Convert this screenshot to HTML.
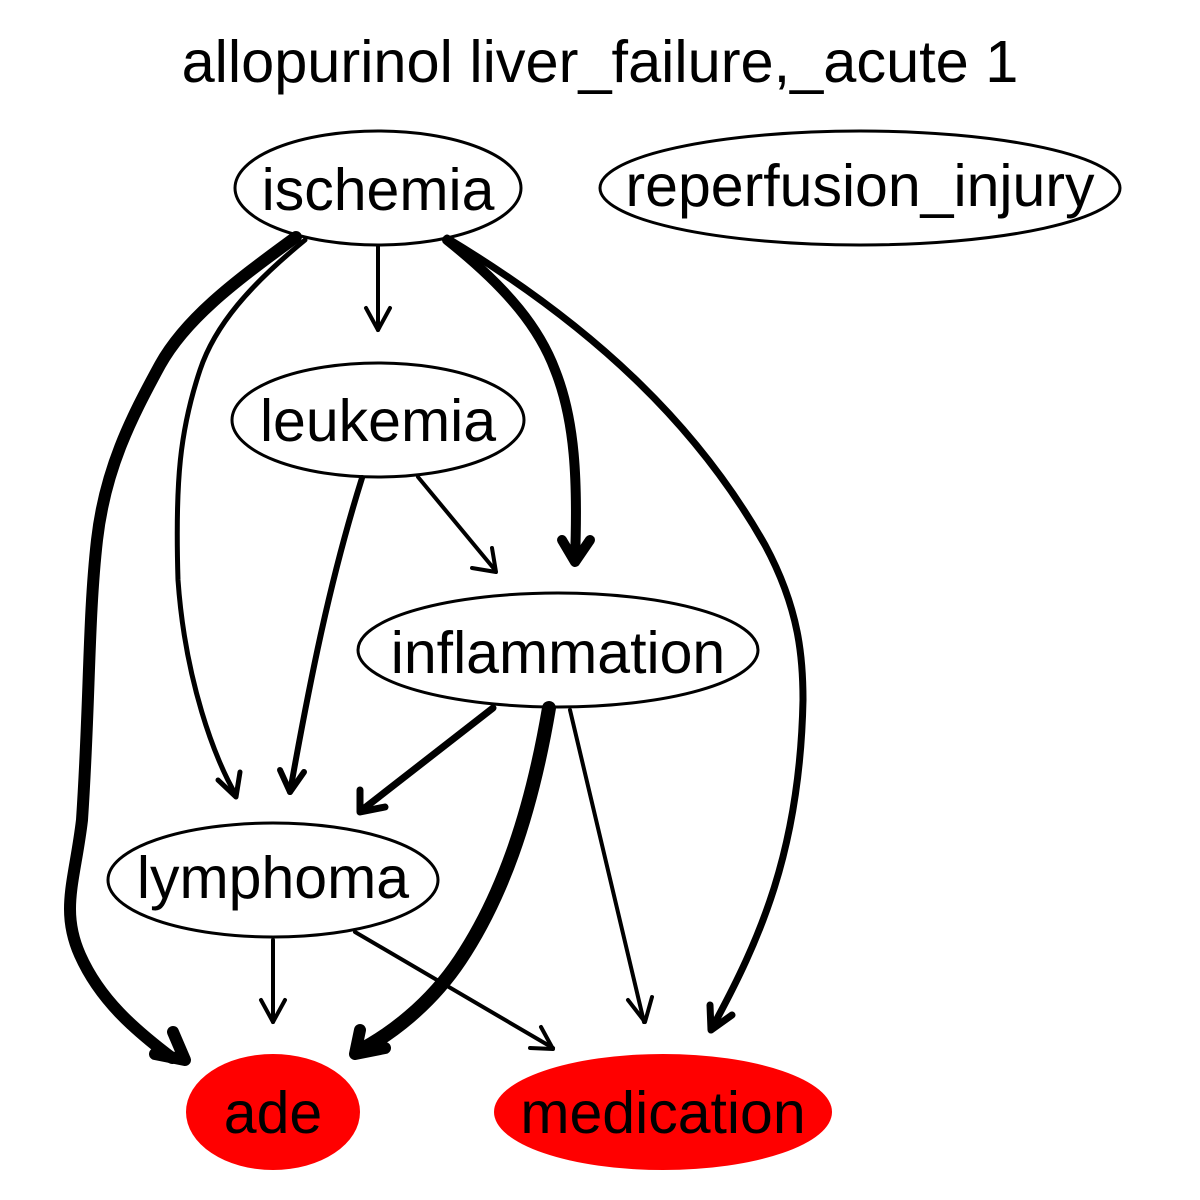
<!DOCTYPE html>
<html><head><meta charset="utf-8"><style>html,body{margin:0;padding:0;background:#fff}svg{display:block}</style></head>
<body>
<svg width="1200" height="1200" viewBox="0 0 1200 1200" xmlns="http://www.w3.org/2000/svg" font-family="Liberation Sans, sans-serif">
<rect width="1200" height="1200" fill="#fff"/>
<text x="600" y="82" font-size="59.5" text-anchor="middle">allopurinol liver_failure,_acute 1</text>
<g fill="none" stroke="#000" stroke-linecap="round" stroke-linejoin="round">
<path d="M296,237 C230,285 185,320 160,365 C130,420 105,470 97,540 C88,620 90,700 82,820 C75,880 60,910 80,955 C100,1000 135,1030 172,1058" stroke-width="12"/>
<polyline points="155,1054 185,1060 173,1032" stroke-width="12"/>
<path d="M305,240 C250,285 215,325 200,370 C180,430 175,480 178,580 C185,680 215,760 236,795" stroke-width="5"/>
<polyline points="218,780 236,797 240,772" stroke-width="5"/>
<line x1="378" y1="246" x2="378" y2="330" stroke-width="4"/>
<polyline points="366,308 378,330 390,308" stroke-width="4"/>
<path d="M447,240 C510,290 540,330 555,370 C575,420 578,480 575,560" stroke-width="10"/>
<polyline points="562,540 575,562 590,540" stroke-width="10"/>
<path d="M447,238 C600,330 700,430 765,545 C800,610 803,660 803,700 C800,850 760,940 712,1028" stroke-width="7"/>
<polyline points="710,1005 711,1030 732,1015" stroke-width="7"/>
<path d="M362,478 C330,580 310,680 290,792" stroke-width="6"/>
<polyline points="280,770 290,792 304,772" stroke-width="6"/>
<line x1="418" y1="477" x2="495" y2="570" stroke-width="4"/>
<polyline points="472,568 496,572 492,548" stroke-width="4"/>
<line x1="493" y1="708" x2="362" y2="810" stroke-width="7"/>
<polyline points="360,790 360,812 385,807" stroke-width="7"/>
<path d="M549,708 C530,820 500,900 460,960 C430,1005 390,1035 357,1052" stroke-width="14"/>
<polyline points="360,1030 355,1054 385,1048" stroke-width="12"/>
<line x1="570" y1="710" x2="644" y2="1022" stroke-width="4"/>
<polyline points="628,1000 645,1022 652,997" stroke-width="4"/>
<line x1="273" y1="940" x2="273" y2="1022" stroke-width="4"/>
<polyline points="261,1000 273,1022 285,1000" stroke-width="4"/>
<line x1="355" y1="932" x2="553" y2="1048" stroke-width="4"/>
<polyline points="530,1048 553,1049 541,1027" stroke-width="4"/>
</g>
<g stroke="#000" stroke-width="3" fill="none">
<ellipse cx="378" cy="188" rx="143" ry="57"/>
<ellipse cx="860" cy="188" rx="260" ry="57"/>
<ellipse cx="378" cy="420" rx="146" ry="57"/>
<ellipse cx="558" cy="650" rx="200" ry="57"/>
<ellipse cx="273" cy="880" rx="165" ry="57"/>
</g>
<ellipse cx="273" cy="1112" rx="87" ry="58" fill="#f00"/>
<ellipse cx="663" cy="1112" rx="169" ry="58" fill="#f00"/>
<g font-size="59" text-anchor="middle">
<text x="378" y="210">ischemia</text>
<text x="860" y="206">reperfusion_injury</text>
<text x="378" y="441">leukemia</text>
<text x="558" y="673">inflammation</text>
<text x="273" y="898">lymphoma</text>
<text x="273" y="1133">ade</text>
<text x="663" y="1133">medication</text>
</g>
</svg>
</body></html>
